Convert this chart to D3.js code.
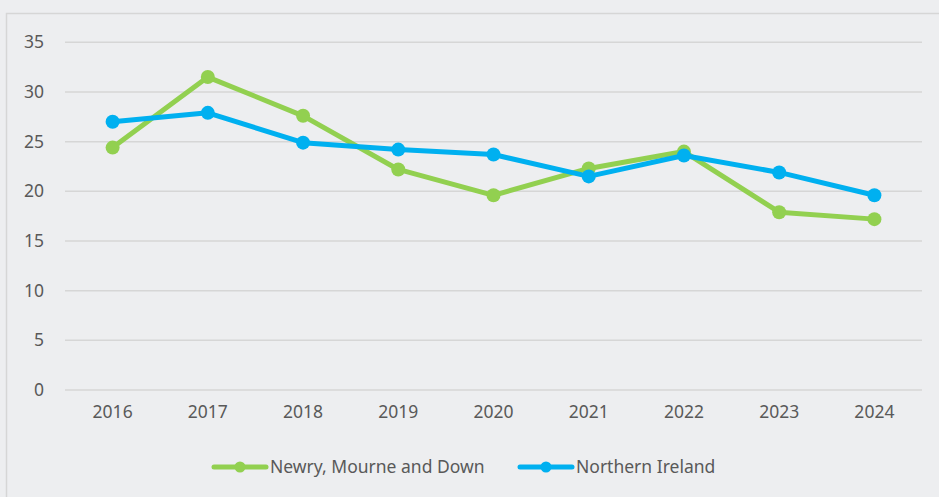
<!DOCTYPE html>
<html><head><meta charset="utf-8">
<script src="https://cdn.jsdelivr.net/npm/d3@7"></script>
<style>
html,body{margin:0;padding:0;background:#edeef0;}
svg{display:block;}
text{font-family:"Noto Sans",sans-serif;fill:#595959;}
</style></head>
<body>
<svg id="chart" width="939" height="497"></svg>
<script>
const years = ["2016","2017","2018","2019","2020","2021","2022","2023","2024"];
const newry = [24.4, 31.5, 27.6, 22.2, 19.6, 22.3, 24.0, 17.9, 17.2];
const ni = [27.0, 27.9, 24.9, 24.2, 23.7, 21.5, 23.6, 21.9, 19.6];
const yTicks = [0, 5, 10, 15, 20, 25, 30, 35];
const seriesNames = ["Newry, Mourne and Down", "Northern Ireland"];
const colors = ["#92d050", "#00b0f0"];

const svg = d3.select("#chart");
svg.append("rect").attr("width", 939).attr("height", 497).attr("fill", "#edeef0");
svg.append("path").attr("d", "M6.5,497 L6.5,13.5 L939,13.5").attr("fill", "none").attr("stroke", "#d6d6d6").attr("stroke-width", 1.5);

const x = d3.scaleBand().domain(years).range([65, 922]);
const y = d3.scaleLinear().domain([0, 35]).range([390, 42.3]);

const grid = svg.append("g");
grid.selectAll("line").data(yTicks).join("line")
  .attr("x1", 65).attr("x2", 922)
  .attr("y1", d => y(d)).attr("y2", d => y(d))
  .attr("stroke", "#d6d6d6").attr("stroke-width", 1.5);

const yAxis = svg.append("g").attr("transform", "translate(52,0)")
  .call(d3.axisLeft(y).tickValues(yTicks).tickSize(0).tickPadding(8));
yAxis.select(".domain").remove();
yAxis.selectAll("text").attr("font-size", 17.5).attr("font-family", "Noto Sans").attr("fill", "#595959");

const xAxis = svg.append("g").attr("transform", "translate(0,402)")
  .call(d3.axisBottom(x).tickSize(0).tickPadding(4));
xAxis.select(".domain").remove();
xAxis.selectAll("text").attr("font-size", 17.5).attr("font-family", "Noto Sans").attr("fill", "#595959");

const line = d3.line().x((d, i) => x(years[i]) + x.bandwidth() / 2).y(d => y(d));
[newry, ni].forEach((vals, k) => {
  const g = svg.append("g");
  g.append("path").datum(vals).attr("d", line)
    .attr("fill", "none").attr("stroke", colors[k]).attr("stroke-width", 5)
    .attr("stroke-linejoin", "round").attr("stroke-linecap", "round");
  g.selectAll("circle").data(vals).join("circle")
    .attr("cx", (d, i) => x(years[i]) + x.bandwidth() / 2)
    .attr("cy", d => y(d)).attr("r", 7).attr("fill", colors[k]);
});

const legX = [214, 520];
const legend = svg.append("g");
seriesNames.forEach((name, k) => {
  const g = legend.append("g").attr("transform", `translate(${legX[k]},467)`);
  g.append("line").attr("x1", 0).attr("x2", 52).attr("y1", 0).attr("y2", 0)
    .attr("stroke", colors[k]).attr("stroke-width", 5).attr("stroke-linecap", "round");
  g.append("circle").attr("cx", 26).attr("cy", 0).attr("r", 5.5).attr("fill", colors[k]);
  g.append("text").attr("x", 56).attr("y", 0).attr("dy", "0.35em")
    .attr("font-size", 17.5).text(name);
});
</script>
</body></html>
